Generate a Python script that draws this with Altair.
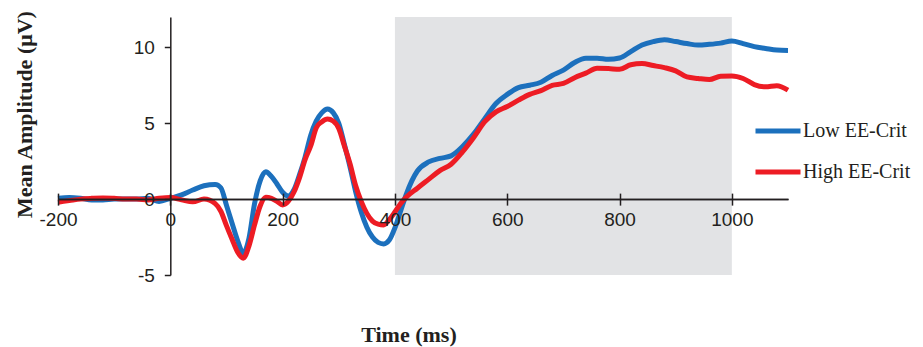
import altair as alt
import pandas as pd

# ---- data ----
times = [-200, -180, -160, -140, -120, -100, -80, -60, -40, -20, 0,
         20, 40, 60, 80,
         90, 100, 110, 120, 130, 140, 150, 160, 170, 180, 190, 200, 210, 220,
         230, 240, 250, 260, 270, 280, 290, 300, 310, 320, 330, 340, 350, 360,
         370, 380, 390, 400, 410, 420,
         440, 460, 480, 500, 520, 540, 560, 580, 600, 620, 640, 660, 680, 700,
         720, 740, 760, 780, 800, 820, 840, 860, 880, 900, 920, 940, 960, 980,
         1000, 1020, 1040, 1060, 1080, 1100]

low_ee = [0.05, 0.1, 0.05, -0.05, -0.05, 0.0, 0.0, 0.0, 0.05, -0.15, 0.05,
          0.28, 0.6, 0.88, 0.97,
          0.75, -0.4, -1.59, -2.75, -3.54, -2.6, -0.3, 1.2, 1.8, 1.5, 1.0, 0.45,
          0.2, 0.6, 1.6, 2.77, 4.2, 5.15, 5.7, 5.94, 5.7, 5.0, 3.6, 2.12, 0.5,
          -0.85, -1.85, -2.5, -2.85, -2.95, -2.7, -1.9, -0.8, 0.3,
          1.85, 2.45, 2.68, 2.85, 3.45, 4.28, 5.3, 6.3, 6.9, 7.35, 7.5, 7.7,
          8.15, 8.5, 9.0, 9.28, 9.28, 9.21, 9.3, 9.72, 10.15, 10.38, 10.5,
          10.38, 10.25, 10.15, 10.2, 10.28, 10.42, 10.25, 10.05, 9.93, 9.82, 9.8]

high_ee = [-0.2, -0.1, 0.0, 0.05, 0.08, 0.05, 0.0, 0.0, -0.05, 0.05, 0.1,
           -0.05, -0.18, 0.0, -0.3,
           -0.8, -1.75, -2.65, -3.5, -3.89, -3.1, -1.7, -0.45, 0.12, 0.05,
           -0.15, -0.38, -0.15, 0.45, 1.4, 2.6, 3.5, 4.7, 5.1, 5.28, 5.15, 4.65,
           3.5, 2.33, 0.9, -0.15, -0.94, -1.45, -1.65, -1.7, -1.35, -0.85,
           -0.3, 0.12,
           0.72, 1.3, 1.88, 2.3, 3.1, 4.05, 5.1, 5.75, 6.1, 6.52, 6.9, 7.15,
           7.5, 7.62, 8.0, 8.3, 8.62, 8.6, 8.55, 8.85, 8.93, 8.8, 8.66, 8.45,
           8.05, 7.95, 7.88, 8.1, 8.12, 7.95, 7.55, 7.4, 7.47, 7.18]

series_names = ["Low EE-Crit", "High EE-Crit"]
series_colors = ["#1c70bd", "#ed1c24"]

shade_start = [400]
shade_end = [1000]
shade_low = [-5]
shade_high = [12]

x_ticks = [-200, 0, 200, 400, 600, 800, 1000]
y_ticks = [-5, 0, 5, 10]

# ---- layout ----
W, H = 730, 258
XMIN, XMAX = -200, 1100
YMIN, YMAX = -5, 12
x_off = -W * (0 - XMIN) / (XMAX - XMIN)   # move y axis to x = 0
y_off = -H * (0 - YMIN) / (YMAX - YMIN)   # move x axis to y = 0
y_off_top = -H * (YMAX - 0) / (YMAX - YMIN)

INK = "#231f20"
PLAIN = "'' + datum.value"

df = pd.DataFrame({
    "time": times * 2,
    "amp": low_ee + high_ee,
    "cond": [n for n in series_names for _ in times],
})
shade = pd.DataFrame({"x": shade_start, "x2": shade_end,
                      "y": shade_low, "y2": shade_high})

xscale = alt.Scale(domain=[XMIN, XMAX], nice=False, zero=False)
yscale = alt.Scale(domain=[YMIN, YMAX], nice=False, zero=False)

bottom_axis = alt.Axis(
    orient="bottom", offset=y_off, values=x_ticks, grid=False, zindex=1,
    domainColor=INK, domainWidth=1.5, tickColor=INK, tickWidth=1.5, tickSize=6,
    labelFont="Liberation Sans", labelFontSize=19, labelColor=INK,
    labelPadding=5, labelFlush=False, labelOverlap=False, labelExpr=PLAIN,
    title="Time (ms)", titleFont="Liberation Serif", titleFontSize=22,
    titleFontWeight="bold", titleColor=INK,
    titleX=350.5, titleY=142.5, titleBaseline="alphabetic",
)
top_axis = alt.Axis(
    orient="top", offset=y_off_top, values=x_ticks, grid=False, zindex=1,
    domainColor=INK, domainWidth=1.5, tickColor=INK, tickWidth=1.5, tickSize=6,
    labels=False, title=None,
)
left_axis = alt.Axis(
    orient="left", offset=x_off, values=y_ticks, grid=False, zindex=1,
    domainColor=INK, domainWidth=1.5, tickColor=INK, tickWidth=1.5, tickSize=6,
    labelFont="Liberation Sans", labelFontSize=19, labelColor=INK,
    labelPadding=10, labelFlush=False, labelOverlap=False, labelExpr=PLAIN,
    title="Mean Amplitude (μV)", titleFont="Liberation Serif", titleFontSize=22,
    titleFontWeight="bold", titleColor=INK, titleAngle=270,
    titleX=-139, titleY=97, titleBaseline="alphabetic",
)

rect = alt.Chart(shade).mark_rect(color="#e2e3e5").encode(
    x=alt.X("x:Q", scale=xscale, axis=bottom_axis),
    x2="x2:Q",
    y=alt.Y("y:Q", scale=yscale, axis=left_axis),
    y2="y2:Q",
)

lines = alt.Chart(df).mark_line(strokeWidth=5, interpolate="monotone").encode(
    x=alt.X("time:Q", scale=xscale, axis=top_axis),
    y=alt.Y("amp:Q", scale=yscale, axis=None),
    color=alt.Color(
        "cond:N",
        scale=alt.Scale(domain=series_names, range=series_colors),
        sort=series_names,
        legend=alt.Legend(
            orient="none", legendX=695, legendY=103.5, title=None,
            symbolType="stroke", symbolSize=2025, symbolStrokeWidth=5,
            labelFont="Liberation Serif", labelFontSize=20, labelColor=INK,
            labelOffset=0, clipHeight=21, rowPadding=20, padding=0,
            labelLimit=200,
        ),
    ),
    order=alt.Order("cond:N", sort="descending"),
)

chart = (
    alt.layer(rect, lines)
    .resolve_axis(x="independent", y="independent")
    .properties(
        width=W, height=H,
        padding={"left": 50, "top": 9, "right": 127, "bottom": 72},
        autosize=alt.AutoSizeParams(type="none"),
    )
    .configure_view(stroke=None)
)

chart.save("out.html", embed_options={"renderer": "svg", "actions": False})
